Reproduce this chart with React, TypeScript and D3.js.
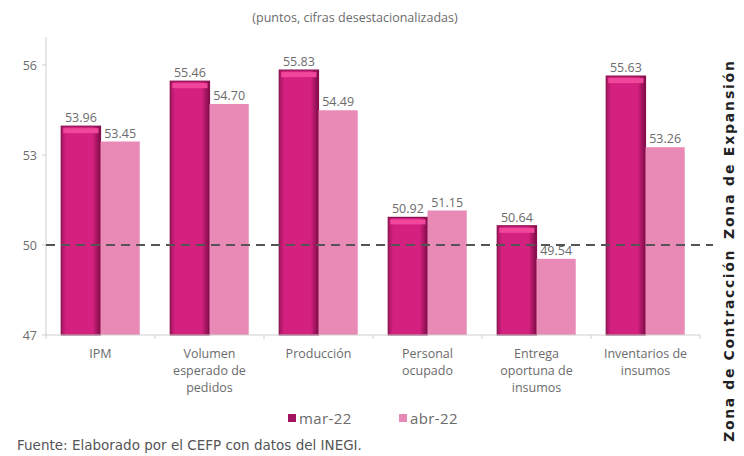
import React from "react";
import * as d3 from "d3";

const categories: string[][] = [
  ["IPM"],
  ["Volumen", "esperado de", "pedidos"],
  ["Producción"],
  ["Personal", "ocupado"],
  ["Entrega", "oportuna de", "insumos"],
  ["Inventarios de", "insumos"],
];
const seriesNames = ["mar-22", "abr-22"];
const mar22 = [53.96, 55.46, 55.83, 50.92, 50.64, 55.63];
const abr22 = [53.45, 54.7, 54.49, 51.15, 49.54, 53.26];
const yTicks = [47, 50, 53, 56];
const threshold = 50;

const W = 744;
const H = 456;
const M = { left: 46, right: 44, top: 65, bottom: 121 };
const FONT = "'Open Sans', sans-serif";
const GRAY = "#6b6b6b";
const MAR = "#d4207f";
const MAR_DARK = "#8a0f4e";
const ABR = "#e98ab6";

export default function App() {
  const x0 = d3
    .scaleBand<number>()
    .domain(d3.range(categories.length))
    .range([M.left, W - M.right])
    .paddingInner(0.28)
    .paddingOuter(0.14);
  const x1 = d3.scaleBand<number>().domain([0, 1]).range([0, x0.bandwidth()]);
  const y = d3.scaleLinear().domain([47, 56]).range([H - M.bottom, M.top]);
  const axisY = y(47);

  const series = [mar22, abr22];

  return (
    <svg
      width={W}
      height={H}
      style={{ position: "absolute", left: 0, top: 0, background: "#fff" }}
      fontFamily={FONT}
    >
      <defs>
        <linearGradient id="marGrad" x1="0" x2="1" y1="0" y2="0">
          <stop offset="0" stopColor="#a3145f" />
          <stop offset="0.12" stopColor={MAR} />
          <stop offset="0.8" stopColor={MAR} />
          <stop offset="1" stopColor="#7d0c46" />
        </linearGradient>
      </defs>
      <text x={355} y={22} textAnchor="middle" fontSize={12.5} fill={GRAY}>
        (puntos, cifras desestacionalizadas)
      </text>

      {/* y axis */}
      <line x1={M.left} x2={M.left} y1={y(56) - 28} y2={axisY} stroke="#cfcfcf" />
      {yTicks.map((t) => (
        <g key={t}>
          <line x1={M.left - 4} x2={M.left} y1={y(t)} y2={y(t)} stroke="#cfcfcf" />
          <text x={37} y={y(t) + 4.5} textAnchor="end" fontSize={12.5} fill={GRAY}>
            {t}
          </text>
        </g>
      ))}

      {/* bars */}
      {series.map((vals, si) =>
        vals.map((v, i) => {
          const bx = (x0(i) as number) + (x1(si) as number);
          const by = y(v);
          const bh = axisY - by;
          const bw = x1.bandwidth();
          return (
            <g key={`${si}-${i}`}>
              {si === 0 ? (
                <>
                  <rect x={bx} y={by} width={bw} height={bh} fill="url(#marGrad)" stroke={MAR_DARK} strokeWidth={1.2} />
                  <rect x={bx + 2} y={by + 2} width={bw - 4} height={5} fill="#f0479d" />
                </>
              ) : (
                <rect x={bx} y={by} width={bw} height={bh} fill={ABR} />
              )}
              <text
                x={bx + bw / 2}
                y={by - 4}
                textAnchor="middle"
                fontSize={12.5}
                fill={GRAY}
              >
                {v.toFixed(2)}
              </text>
            </g>
          );
        })
      )}

      {/* x axis */}
      <line x1={M.left} x2={W - M.right} y1={axisY} y2={axisY} stroke="#cfcfcf" />
      {d3.range(categories.length + 1).map((k) => (
        <line
          key={k}
          x1={M.left + k * ((W - M.right - M.left) / categories.length)}
          x2={M.left + k * ((W - M.right - M.left) / categories.length)}
          y1={axisY}
          y2={axisY + 4}
          stroke="#cfcfcf"
        />
      ))}
      {categories.map((lines, i) => {
        const cx = (x0(i) as number) + x0.bandwidth() / 2;
        return (
          <text key={i} x={cx} textAnchor="middle" fontSize={12.5} fill={GRAY}>
            {lines.map((l, li) => (
              <tspan key={li} x={cx} y={axisY + 23 + li * 17}>
                {l}
              </tspan>
            ))}
          </text>
        );
      })}

      {/* threshold */}
      <line
        x1={M.left}
        x2={713}
        y1={y(threshold)}
        y2={y(threshold)}
        stroke="#555"
        strokeWidth={2.2}
        strokeDasharray="9 6"
      />

      {/* zone labels */}
      <text
        transform={`translate(734, ${y(threshold) - 6}) rotate(-90)`}
        textAnchor="start"
        fontSize={14}
        fontWeight="bold"
        fill="#222"
        fontFamily="'DejaVu Sans', sans-serif"
        letterSpacing={1.8}
      >
        Zona de Expansión
      </text>
      <text
        transform={`translate(734, ${y(threshold) + 4}) rotate(-90)`}
        textAnchor="end"
        fontSize={14}
        fontWeight="bold"
        fill="#222"
        fontFamily="'DejaVu Sans', sans-serif"
        letterSpacing={1.6}
      >
        Zona de Contracción
      </text>

      {/* legend */}
      {seriesNames.map((n, i) => {
        const lx = 288 + i * 111;
        return (
          <g key={n}>
            <rect x={lx} y={414} width={8} height={8} fill={i === 0 ? "#a3145f" : ABR} />
            <text x={lx + 11} y={424} fontSize={15} fill={GRAY} letterSpacing={0.4}>
              {n}
            </text>
          </g>
        );
      })}

      <text x={17} y={450} fontSize={13.5} fill="#555" fontFamily="'DejaVu Sans', sans-serif">
        Fuente: Elaborado por el CEFP con datos del INEGI.
      </text>
    </svg>
  );
}
